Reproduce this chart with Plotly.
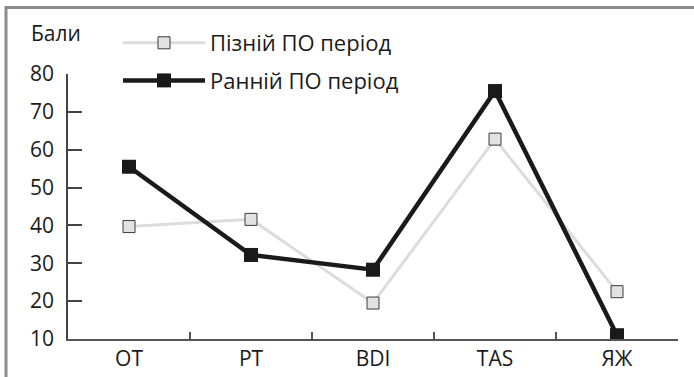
import plotly.graph_objects as go

categories = ["ОТ", "РТ", "BDI", "TAS", "ЯЖ"]
late_values = [39.7, 41.6, 19.5, 62.8, 22.5]
early_values = [55.5, 32.2, 28.3, 75.5, 11.0]
y_ticks = [10, 20, 30, 40, 50, 60, 70, 80]
late_name = "Пізній ПО період"
early_name = "Ранній ПО період"
y_title = "Бали"

W, H = 694, 377
L, R, T, B = 68, 16, 74, 38
pw, ph = W - L - R, H - T - B

def px_x(px):
    return (px - L) / pw

def px_y(py):
    return (H - B - py) / ph

FONT = "Open Sans"
FS = 21

fig = go.Figure()
fig.add_trace(go.Scatter(
    x=categories, y=late_values, name=late_name, mode="lines+markers",
    line=dict(color="#dcdcdc", width=3),
    marker=dict(symbol="square", size=12, color="#e2e2e2",
                line=dict(color="#3a3a3a", width=1)),
    legendgroup="a",
))
fig.add_trace(go.Scatter(
    x=categories, y=early_values, name=early_name, mode="lines+markers",
    line=dict(color="#1a1a1a", width=4.5),
    marker=dict(symbol="square", size=14, color="#1a1a1a"),
    legendgroup="b",
))

fig.update_layout(
    width=W, height=H,
    margin=dict(l=L, r=R, t=T, b=B, pad=0, autoexpand=False),
    paper_bgcolor="white", plot_bgcolor="white",
    font=dict(family=FONT, size=FS, color="#1a1a1a"),
    showlegend=True,
    legend=dict(
        x=px_x(118), y=px_y(22), xanchor="left", yanchor="top",
        bgcolor="rgba(0,0,0,0)", itemwidth=82,
        traceorder="grouped", tracegroupgap=6,
        font=dict(family=FONT, size=22, color="#1a1a1a"),
    ),
    xaxis=dict(
        type="category", range=[-0.5, 4.5], automargin=False,
        showgrid=False, zeroline=False,
        showline=True, linecolor="#555555", linewidth=1.5,
        ticks="inside", tickson="boundaries", ticklen=7,
        tickcolor="#555555", tickwidth=1.5,
        tickfont=dict(family=FONT, size=FS, color="#1a1a1a"),
    ),
    yaxis=dict(
        range=[10, 80], tickvals=y_ticks, automargin=False,
        showgrid=False, zeroline=False,
        showline=True, linecolor="#444444", linewidth=1.5,
        ticks="inside", ticklen=14, tickcolor="#444444", tickwidth=1.5,
        tickfont=dict(family=FONT, size=FS, color="#1a1a1a"),
        ticklabelstandoff=8,
    ),
    annotations=[dict(
        text=y_title, xref="paper", yref="paper",
        x=px_x(56), y=px_y(33), xanchor="center", yanchor="middle",
        showarrow=False, font=dict(family=FONT, size=FS, color="#1a1a1a"),
    )],
    shapes=[
        dict(type="line", xref="paper", yref="paper",
             x0=px_x(5), x1=px_x(694), y0=px_y(7.5), y1=px_y(7.5),
             line=dict(color="#8c8c8c", width=3)),
        dict(type="line", xref="paper", yref="paper",
             x0=px_x(6), x1=px_x(6), y0=px_y(6), y1=px_y(377),
             line=dict(color="#8c8c8c", width=3)),
    ],
)

fig.write_html("out.html", config={"displayModeBar": False},
               post_script="document.body.style.margin='0';")
